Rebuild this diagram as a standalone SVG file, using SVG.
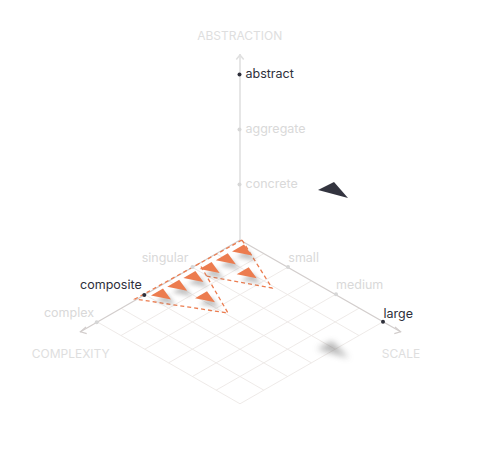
<svg xmlns="http://www.w3.org/2000/svg" width="480" height="458" viewBox="0 0 480 458">
<style>
.grid{stroke:#ece8e5;stroke-width:0.9;fill:none}
.axis{stroke:#d2cdcc;stroke-width:1.2;fill:none}
.vaxis{stroke:#e0e0e0;stroke-width:1.6;fill:none}
.lbl{font-family:Inter,"Liberation Sans",sans-serif;font-size:12.5px;fill:#d9d9d9}
.cap{font-family:Inter,"Liberation Sans",sans-serif;font-size:12px;fill:#dedede}
.dk{font-family:Inter,"Liberation Sans",sans-serif;font-size:12.5px;fill:#2e2f3a}
.dark{fill:#2e2f3a}
.tick{fill:#d6d6d6}
.dash{stroke:#ec7c4f;stroke-width:1.3;stroke-dasharray:4 3;fill:none}
.tri{fill:#ec7c4f}
.sh{fill:#7a7a7a;opacity:0.45;filter:url(#blur)}
</style>
<defs>
<filter id="blur" x="-50%" y="-50%" width="200%" height="200%"><feGaussianBlur stdDeviation="2"/></filter>
<filter id="blur2" x="-50%" y="-50%" width="200%" height="200%"><feGaussianBlur stdDeviation="3"/></filter>
<path id="t" d="M0 0 L12 -7 L20 4 Z"/>
</defs>
<rect width="480" height="458" fill="#ffffff"/>
<g id="grid">
<path class="grid" d="M216.2 253.65L359 335.55M192.4 267.3L335.2 349.2M168.6 280.95L311.4 362.85M144.8 294.6L287.6 376.5M121 308.25L263.8 390.15M97.2 321.9L240 403.8"/>
<path class="grid" d="M263.8 253.65L121 335.55M287.6 267.3L144.8 349.2M311.4 280.95L168.6 362.85M335.2 294.6L192.4 376.5M359 308.25L216.2 390.15M382.8 321.9L240 403.8"/>
</g>
<g id="connectors">
<path class="vaxis" d="M240 240V54"/>
<path class="vaxis" d="M236.3 59.5L240 55L243.7 59.5"/>
<path class="axis" d="M240 240L401 332"/>
<path class="axis" d="M395 327L400.5 331.7L394.3 333.6"/>
<path class="axis" d="M240 240L80 332"/>
<path class="axis" d="M86 327L80.5 331.7L86.7 333.6"/>
<path class="dash" d="M242 240L135 299L228 313L199 263"/>
<path class="dash" d="M242 240L272 288L206 276"/>
</g>
<g id="axis-abstraction">
<text class="cap" x="239.7" y="40" text-anchor="middle">ABSTRACTION</text>
<circle class="dark" cx="239.5" cy="74.5" r="2"/>
<text class="dk" x="245.5" y="78.2">abstract</text>
<circle class="tick" cx="239.5" cy="129.5" r="2"/>
<text class="lbl" x="245.5" y="133.2">aggregate</text>
<circle class="tick" cx="239.5" cy="184.5" r="2"/>
<text class="lbl" x="245.5" y="188.2">concrete</text>
</g>
<g id="axis-scale">
<circle class="tick" cx="288" cy="267" r="2"/>
<text class="lbl" x="288.3" y="261.5">small</text>
<circle class="tick" cx="336" cy="294.3" r="2"/>
<text class="lbl" x="336" y="289">medium</text>
<circle class="dark" cx="383" cy="321.7" r="2"/>
<text class="dk" x="383.5" y="317.5">large</text>
<text class="cap" x="381.7" y="357.7">SCALE</text>
</g>
<g id="axis-complexity">
<circle class="tick" cx="192.5" cy="267" r="2"/>
<text class="lbl" x="188.5" y="262" text-anchor="end">singular</text>
<circle class="dark" cx="144.3" cy="295" r="2"/>
<text class="dk" x="141.7" y="289" text-anchor="end">composite</text>
<circle class="tick" cx="96.7" cy="322.3" r="2"/>
<text class="lbl" x="94" y="316.5" text-anchor="end">complex</text>
<text class="cap" x="31.7" y="357.7">COMPLEXITY</text>
</g>
<g id="composite-triangles">
<use href="#t" class="sh" transform="translate(236 257)"/>
<use href="#t" class="sh" transform="translate(220 266)"/>
<use href="#t" class="sh" transform="translate(204 275)"/>
<use href="#t" class="sh" transform="translate(188 283.5)"/>
<use href="#t" class="sh" transform="translate(172 292.5)"/>
<use href="#t" class="sh" transform="translate(155.5 301)"/>
<use href="#t" class="sh" transform="translate(241 280)"/>
<use href="#t" class="sh" transform="translate(199.5 304)"/>
<use href="#t" class="tri" transform="translate(232 251.5)"/>
<use href="#t" class="tri" transform="translate(215.8 260.3)"/>
<use href="#t" class="tri" transform="translate(199.6 269.1)"/>
<use href="#t" class="tri" transform="translate(183.4 277.9)"/>
<use href="#t" class="tri" transform="translate(167.2 286.7)"/>
<use href="#t" class="tri" transform="translate(151 295.5)"/>
<use href="#t" class="tri" transform="translate(236.7 274.3)"/>
<use href="#t" class="tri" transform="translate(195 298.3)"/>
</g>
<g id="large-triangle">
<path d="M317 349L332 341L349 358Z" fill="#6e6e6e" opacity="0.5" filter="url(#blur2)"/>
<path d="M318 190L334 182L348 198Z" fill="#33343f"/>
</g>
</svg>
